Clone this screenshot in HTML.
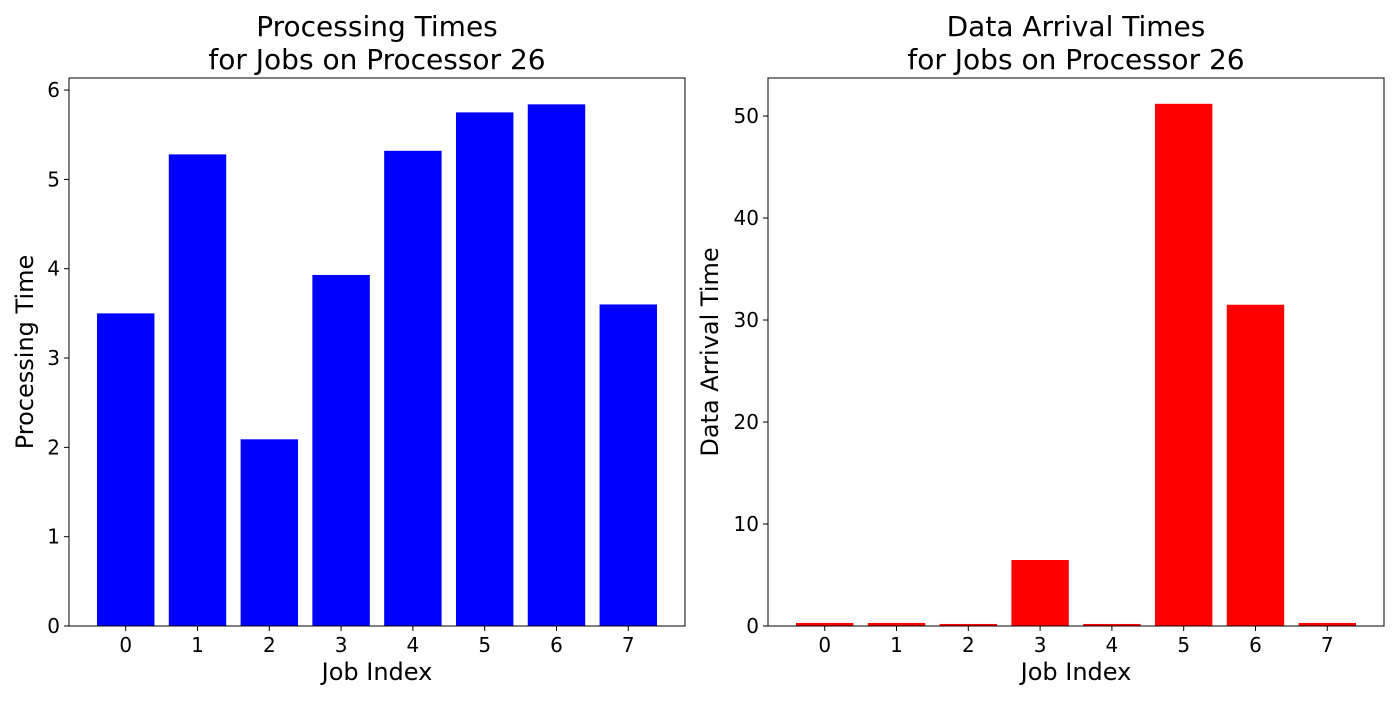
<!DOCTYPE html>
<html><head><meta charset="utf-8"><style>
body{margin:0;background:#fff;width:1400px;height:700px;overflow:hidden;font-family:"Liberation Sans","DejaVu Sans",sans-serif}
svg text{font-family:"DejaVu Sans","Liberation Sans",sans-serif;fill:#000}
</style></head><body>
<svg id="chart" width="1400" height="700" xmlns="http://www.w3.org/2000/svg"></svg>
<script>
const categories = [0,1,2,3,4,5,6,7];
const processingTimes = [3.50,5.28,2.09,3.93,5.32,5.75,5.84,3.60];
const arrivalTimes = [0.3,0.3,0.2,6.47,0.2,51.2,31.5,0.3];
const leftTicks = [0,1,2,3,4,5,6];
const rightTicks = [0,10,20,30,40,50];
const svg = document.getElementById('chart');
const NS='http://www.w3.org/2000/svg';
function mk(tag, attrs, parent, text){
  const e=document.createElementNS(NS,tag);
  for(const k in attrs) e.setAttribute(k,attrs[k]);
  if(text!==undefined) e.textContent=text;
  parent.appendChild(e); return e;
}
function panel(name, x0, x1, y0, y1, ymax, values, ticks, color, title1, title2, ylabel){
  const g=mk('g',{},svg);
  
  
  const xs=v=>x0+(v+0.79)/(8.58)*(x1-x0);
  const ys=v=>y1-v/ymax*(y1-y0);
  const bw=0.8/8.58*(x1-x0);
  values.forEach((v,i)=>{
    const r=mk('rect',{x:xs(categories[i])-bw/2,y:ys(v),width:bw,height:y1-ys(v),fill:color},g);
    
    
  });
  const f=mk('rect',{x:x0,y:y0,width:x1-x0,height:y1-y0,fill:'none',stroke:'#000','stroke-width':1},g);
  
  
  categories.forEach(c=>{
    const x=xs(c);
    mk('line',{x1:x,x2:x,y1:y1,y2:y1+5,stroke:'#000'},g);
    const t=mk('text',{x:x,y:y1+26,'text-anchor':'middle','font-size':'20'},g,String(c));
    
    
  });
  ticks.forEach(v=>{
    const y=ys(v);
    mk('line',{x1:x0-5,x2:x0,y1:y,y2:y,stroke:'#000'},g);
    const t=mk('text',{x:x0-9,y:y+7,'text-anchor':'end','font-size':'20'},g,String(v));
    
    
  });
  const xt=mk('text',{x:(x0+x1)/2,y:680,'text-anchor':'middle','font-size':'24'},g,'Job Index');
  
  
  const cy=(y0+y1)/2;
  const lx = name==='processing-panel'? 33 : 718;
  const yt=mk('text',{x:lx,y:cy,'text-anchor':'middle','font-size':'24',transform:`rotate(-90 ${lx} ${cy})`},g,ylabel);
  
  
  const t1=mk('text',{x:(x0+x1)/2,y:36,'text-anchor':'middle','font-size':'28'},g,title1);
  
  
  const t2=mk('text',{x:(x0+x1)/2,y:69,'text-anchor':'middle','font-size':'28'},g,title2);
  
  
}
panel('processing-panel',69,685,78,626,6.135,processingTimes,leftTicks,'#0000ff','Processing Times','for Jobs on Processor 26','Processing Time');
panel('arrival-panel',768,1384,78,626,53.73,arrivalTimes,rightTicks,'#ff0000','Data Arrival Times','for Jobs on Processor 26','Data Arrival Time');
</script>
</body></html>
